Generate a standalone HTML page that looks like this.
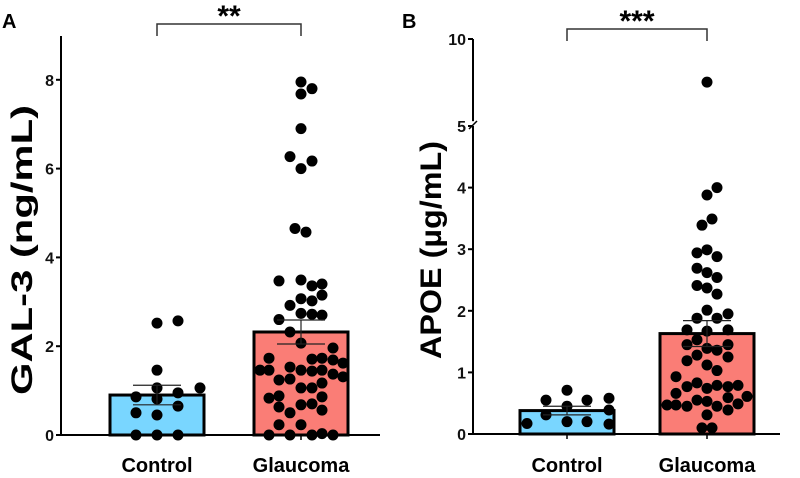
<!DOCTYPE html>
<html><head><meta charset="utf-8"><style>
body{margin:0;background:#fff;}
svg{display:block;font-family:"Liberation Sans",Arial,sans-serif;}
</style></head><body>
<svg id="chart" width="800" height="478" viewBox="0 0 800 478"></svg>
<script>
const groups = ["Control","Glaucoma"];
// Panel A (GAL-3 ng/mL)
const aMeans = [0.9, 2.32];
const aSem = [0.22, 0.27];
const aTicks = [0,2,4,6,8];
const aCtrlVals = [2.52,2.57,1.46,1.06,1.06,0.95,0.86,0.81,0.65,0.5,0.45,0,0,0];
const aCtrlJit = [0,21,0,0,43,21,-21,0,21,-21,0,-21,0,21];
const aGlauVals = [7.95,7.8,7.68,6.9,6.27,6.17,6.0,4.65,4.57,3.47,3.49,3.36,3.4,3.15,3.07,3.02,2.92,2.74,2.72,2.7,2.6,2.32,2.07,1.96,1.73,1.71,1.73,1.69,1.62,1.46,1.46,1.53,1.46,1.44,1.46,1.37,1.31,1.24,1.26,1.17,1.06,1.06,0.83,0.88,0.86,0.63,0.68,0.7,0.56,0.5,0.23,0.23,0,0,0,0.03,0];
const aGlauJit = [0,11,0,0,-11,11,0,-6,5,-22,0,11,21,21,0,11,-11,0,11,21,-22,-11,0,32,-32,11,21,32,42,-41,-32,-11,0,11,21,32,42,-22,-11,21,0,11,-32,-22,21,-22,0,11,21,-11,-22,0,-32,-11,11,21,32];
// Panel B (APOE ug/mL)
const bMeans = [0.38, 1.63];
const bSem = [0.07, 0.21];
const bTicks = [0,1,2,3,4,5,10];
const bCtrlVals = [0.71,0.55,0.55,0.58,0.45,0.39,0.31,0.17,0.2,0.2,0.16];
const bCtrlJit = [0,-21,20,42,0,42,-21,-40,0,20,42];
const bGlauVals = [7.4,4.0,3.88,3.49,3.39,2.94,2.99,2.88,2.69,2.62,2.54,2.41,2.37,2.27,2.01,1.88,1.88,1.95,1.69,1.67,1.69,1.53,1.45,1.39,1.36,1.45,1.28,1.25,1.19,1.12,1.03,0.93,0.77,0.83,0.74,0.79,0.77,0.79,0.66,0.59,0.61,0.47,0.47,0.45,0.55,0.53,0.45,0.49,0.39,0.31,0.1,0.1];
const bGlauJit = [0,10,0,5,-5,-10,0,10,-10,0,10,-10,0,10,0,-10,10,21,-20,0,21,-10,-20,0,10,21,-10,21,-20,0,10,-31,-20,-10,0,10,21,31,-31,21,40,-40,-31,-20,-10,0,10,31,21,0,-5,5];

const NS="http://www.w3.org/2000/svg";
const svg=document.getElementById('chart');
function mk(tag,attrs,parent){const e=document.createElementNS(NS,tag);for(const k in attrs)e.setAttribute(k,attrs[k]);(parent||svg).appendChild(e);return e;}
function txt(s,attrs,parent){const e=mk('text',attrs,parent);e.textContent=s;return e;}

const yA=v=>435-v*44.4;
const yB=v=>v<=5?434-v*61.6:122-(v-5)*16.6;
const xA=[157,301], xB=[567,707];
const barW=94;

function panel(name,yS,xs,means,sem,ctrlV,ctrlJ,glV,glJ,ticks,axisX,axisTop,axisRight,bracketY,stars,ylabel,ylabX,ylabLen,letter,letterX){
  const g=mk('g',{},svg);
  
  
  const colors=['#79d6ff','#fa7d76'];
  means.forEach((m,i)=>{
    const r=mk('rect',{x:xs[i]-barW/2,y:yS(m),width:barW,height:yS(0)-yS(m),fill:colors[i],stroke:'#000','stroke-width':3},g);
    
    
  });
  [[ctrlV,ctrlJ],[glV,glJ]].forEach((d,i)=>{
    d[0].forEach((v,k)=>{
      const c=mk('circle',{cx:xs[i]+d[1][k],cy:yS(v),r:5.5,fill:'#000'},g);
      
      
    });
  });
  means.forEach((m,i)=>{
    const e=mk('g',{stroke:'#222','stroke-width':1.2},g);
    
    
    mk('line',{x1:xs[i],x2:xs[i],y1:yS(m-sem[i]),y2:yS(m+sem[i])},e);
    mk('line',{x1:xs[i]-24,x2:xs[i]+24,y1:yS(m+sem[i]),y2:yS(m+sem[i])},e);
    mk('line',{x1:xs[i]-24,x2:xs[i]+24,y1:yS(m-sem[i]),y2:yS(m-sem[i])},e);
  });
  const ax=mk('g',{stroke:'#000','stroke-width':2,fill:'none'},g);
  
  
  const xAx=mk('line',{x1:axisX,x2:axisRight,y1:yS(0),y2:yS(0),stroke:'#000','stroke-width':2},g);
  
  
  if(name==='panel-b'){
    mk('line',{x1:axisX,x2:axisX,y1:yS(0),y2:yS(5)},ax);
    mk('line',{x1:axisX,x2:axisX,y1:yS(5.05),y2:axisTop},ax);
    mk('line',{x1:axisX-4,x2:axisX+4,y1:yS(5)+3,y2:yS(5)-5,'stroke-width':1.5},ax);
  } else {
    mk('line',{x1:axisX,x2:axisX,y1:yS(0),y2:axisTop},ax);
  }
  ticks.forEach(t=>{
    mk('line',{x1:axisX-5,x2:axisX,y1:yS(t),y2:yS(t)},ax);
    const tl=txt(String(t),{x:axisX-7,y:yS(t)+6,'text-anchor':'end','font-size':16,'font-weight':'bold',fill:'#111'},g);
    
    
  });
  xs.forEach((x,i)=>{
    mk('line',{x1:x,x2:x,y1:yS(0),y2:yS(0)+5,stroke:'#000','stroke-width':1.5},g);
    const l=txt(groups[i],{x:x,y:472,'text-anchor':'middle','font-size':20,'font-weight':'bold',fill:'#000'},g);
    
    
  });
  const br=mk('path',{d:`M${xs[0]},${bracketY+12}V${bracketY}H${xs[1]}V${bracketY+12}`,fill:'none',stroke:'#333','stroke-width':1.5},g);
  
  
  const st=txt(stars,{x:(xs[0]+xs[1])/2,y:bracketY+2,'text-anchor':'middle','font-size':30,'font-weight':'bold',fill:'#000'},g);
  
  
  const yl=txt(ylabel,{x:ylabX,y:250,transform:`rotate(-90 ${ylabX} 250)`,'text-anchor':'middle','font-size':30,'font-weight':'bold',fill:'#000',textLength:ylabLen,lengthAdjust:'spacingAndGlyphs'},g);
  
  
  const lt=txt(letter,{x:letterX,y:28,'font-size':20,'font-weight':'bold',fill:'#000'},g);
  
  
}
panel('panel-a',yA,xA,aMeans,aSem,aCtrlVals,aCtrlJit,aGlauVals,aGlauJit,aTicks,61,36,380,24,'**','GAL-3 (ng/mL)',32,290,'A',2);
panel('panel-b',yB,xB,bMeans,bSem,bCtrlVals,bCtrlJit,bGlauVals,bGlauJit,bTicks,473,39,780,29,'***','APOE (µg/mL)',441,218,'B',402);
</script>
</body></html>
